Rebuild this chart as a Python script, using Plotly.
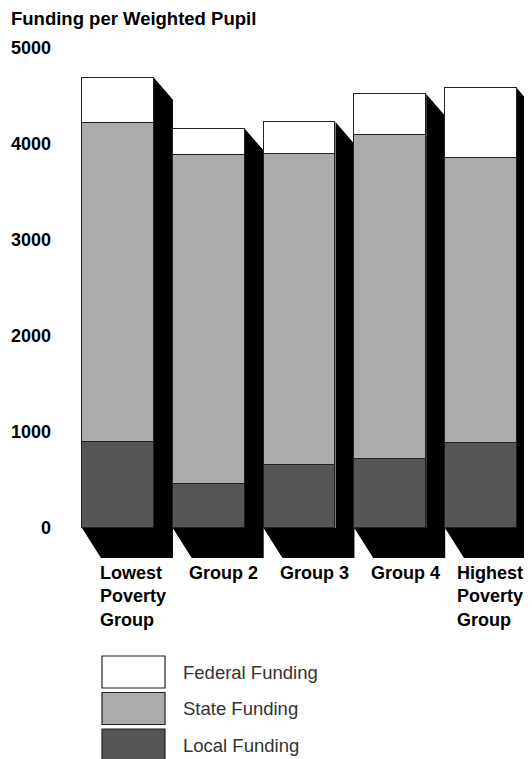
import plotly.graph_objects as go

categories = ["Lowest<br>Poverty<br>Group", "Group 2", "Group 3", "Group 4", "Highest<br>Poverty<br>Group"]
local_funding = [900, 460, 660, 720, 885]
state_funding = [3320, 3430, 3240, 3370, 2965]
federal_funding = [470, 270, 330, 430, 730]
series_names = ["Federal Funding", "State Funding", "Local Funding"]
tick_values = [0, 1000, 2000, 3000, 4000, 5000]
tick_labels = ["0", "1000", "2000", "3000", "4000", "5000"]

colors = {"Federal Funding": "#ffffff", "State Funding": "#acacac", "Local Funding": "#555555"}
FONT = "Liberation Sans, Arial, sans-serif"

# page has an 8px body margin; figure is placed so marks line up with the window
FIG_W, FIG_H = 524, 751
ML = 48
PW = FIG_W - ML
PXU = 0.096  # pixels per value unit
Y_TOP = 520 / PXU
Y_BOT = Y_TOP - FIG_H / PXU


def px(xr):  # reference window x -> paper x
    return (xr - 8 - ML) / PW


def py(yr):  # reference window y -> paper y
    return 1 - (yr - 8) / FIG_H


xs = list(range(len(categories)))
W = 0.793      # bar width in category units
DX = 0.209     # shadow depth in x (category units)
DY_TOP = 229   # shadow drop at top (value units)
DY_BOT = 312   # shadow drop at bottom (value units)

fig = go.Figure()
series = [("Local Funding", local_funding), ("State Funding", state_funding), ("Federal Funding", federal_funding)]
for name, vals in series:
    fig.add_trace(go.Bar(x=xs, y=vals, name=name, width=W,
                         marker=dict(color=colors[name], line=dict(color="#222222", width=1.2)),
                         showlegend=False, hoverinfo="skip"))

shapes = []
for i in xs:
    total = local_funding[i] + state_funding[i] + federal_funding[i]
    x0, x1 = i - W / 2, i + W / 2
    path = (f"M {x1},{total} L {x1 + DX},{total - DY_TOP} L {x1 + DX},{-DY_BOT} "
            f"L {x0 + DX},{-DY_BOT} L {x0},0 L {x1},0 Z")
    shapes.append(dict(type="path", path=path, xref="x", yref="y", fillcolor="#000000",
                       line=dict(width=0), layer="below"))

annotations = []
for i, lab in zip(xs, categories):
    off = 0.165 if i < len(xs) - 1 else 0.1
    annotations.append(dict(x=i + off, y=-345, xref="x", yref="y", text=f"<b>{lab}</b>", showarrow=False,
                            xanchor="center", yanchor="top", align="left",
                            font=dict(family=FONT, size=18, color="#000000")))

annotations.append(dict(x=px(9), y=py(18), xref="paper", yref="paper",
                        text="<b>Funding per Weighted Pupil</b>", showarrow=False,
                        xanchor="left", yanchor="middle",
                        font=dict(family=FONT, size=18.5, color="#000000")))

# legend drawn manually
box_top = 656
for k, name in enumerate(series_names):
    y0 = box_top + 36.5 * k
    shapes.append(dict(type="rect", xref="paper", yref="paper",
                       x0=px(102), x1=px(165), y0=py(y0), y1=py(y0 + 32),
                       fillcolor=colors[name], line=dict(color="#222222", width=1.2)))
    annotations.append(dict(x=px(181), y=py(y0 + 16), xref="paper", yref="paper",
                            text=name, showarrow=False, xanchor="left", yanchor="middle",
                            font=dict(family=FONT, size=18.5, color="#333333")))

fig.update_layout(
    width=FIG_W, height=FIG_H,
    margin=dict(l=ML, r=0, t=0, b=0),
    paper_bgcolor="white", plot_bgcolor="white",
    barmode="stack", bargap=0,
    shapes=shapes, annotations=annotations,
    xaxis=dict(range=[-0.683, 4.562], showticklabels=False, showgrid=False, zeroline=False,
               showline=False, ticks="", fixedrange=True),
    yaxis=dict(range=[Y_BOT, Y_TOP], tickvals=tick_values, ticktext=[f"<b>{t}</b>" for t in tick_labels],
               showgrid=False, zeroline=False, showline=False, ticks="", automargin=False,
               tickfont=dict(family=FONT, size=18, color="#000000"), ticklabelstandoff=4),
    showlegend=False,
)

fig.write_html("out.html")
